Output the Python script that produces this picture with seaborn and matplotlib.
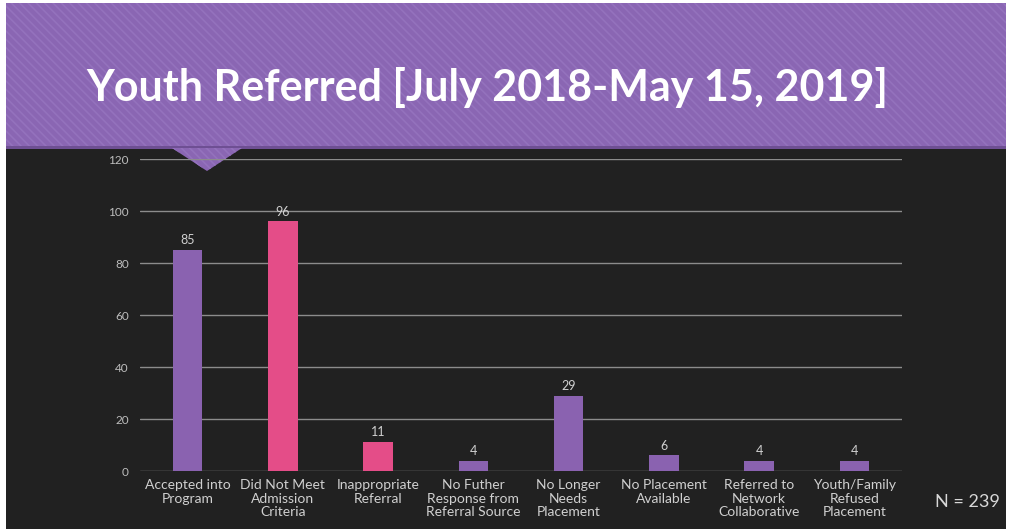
import matplotlib
matplotlib.use("Agg")
import matplotlib.pyplot as plt
import seaborn as sns
import pandas as pd
from matplotlib.patches import Rectangle, Polygon

categories = ["Accepted into\nProgram", "Did Not Meet\nAdmission\nCriteria", "Inappropriate\nReferral",
              "No Futher\nResponse from\nReferral Source", "No Longer\nNeeds\nPlacement",
              "No Placement\nAvailable", "Referred to\nNetwork\nCollaborative", "Youth/Family\nRefused\nPlacement"]
values = [85, 96, 11, 4, 29, 6, 4, 4]
bar_colors = ["#8A62B0", "#E44D88", "#E44D88", "#8A62B0", "#8A62B0", "#8A62B0", "#8A62B0", "#8A62B0"]
yticks = [0, 20, 40, 60, 80, 100, 120]
title = "Youth Referred [July 2018-May 15, 2019]"
n_text = "N = 239"

sns.set_theme(style="dark")
plt.rcParams['font.family'] = ['Lato', 'DejaVu Sans']
plt.rcParams['hatch.linewidth'] = 1.2

W, H = 1010, 529
fig = plt.figure(figsize=(W / 100, H / 100), dpi=100)
fig.patch.set_facecolor("white")

bg = fig.add_axes([0, 0, 1, 1], zorder=-10)
bg.set_xlim(0, W)
bg.set_ylim(H, 0)
bg.axis("off")
bg.add_patch(Rectangle((6, 3), W - 10, H - 3, facecolor="#212121", edgecolor="none"))
bg.add_patch(Rectangle((6, 3), W - 10, 145, facecolor="#8A66B3", edgecolor="#9472BD",
                       hatch="\\\\\\\\", linewidth=0))
bg.add_patch(Rectangle((6, 146), W - 10, 3, facecolor="#6E4F93", edgecolor="none"))
bg.add_patch(Polygon([(172, 148), (242, 148), (207, 171)], closed=True,
                     facecolor="#8A66B3", edgecolor="#9472BD", hatch="\\\\\\\\", linewidth=0))
bg.text(487, 88, title, color="white", fontsize=31, fontweight="bold",
        ha="center", va="center")
bg.text(967, 502, n_text, color="#D8D8D8", fontsize=13, ha="center", va="center")

ax = fig.add_axes([140 / W, (H - 471) / H, (902 - 140) / W, (471 - 159) / H])
ax.set_facecolor("none")
df = pd.DataFrame({"cat": categories, "val": values})
sns.barplot(data=df, x="cat", y="val", hue="cat", palette=bar_colors, legend=False,
            width=0.31, ax=ax, saturation=1, zorder=3, edgecolor="none", linewidth=0)
ax.set_xlim(-0.5, len(categories) - 0.5)
ax.set_ylim(0, 120)
ax.set_yticks(yticks)
ax.yaxis.grid(True, color="#8C8C8C", linewidth=1)
ax.xaxis.grid(False)
for s in ax.spines.values():
    s.set_visible(False)
ax.set_xlabel("")
ax.set_ylabel("")
ax.tick_params(axis="y", colors="#BDBDBD", labelsize=8.5, length=0, pad=8)
ax.tick_params(axis="x", colors="#D0D0D0", labelsize=10, length=0, pad=6)
for lab in ax.get_xticklabels():
    lab.set_linespacing(1.15)
for i, v in enumerate(values):
    ax.text(i, v + 1.5, str(v), ha="center", va="bottom", color="#D0D0D0", fontsize=9)

fig.savefig("out.png", dpi=100, facecolor=fig.get_facecolor())
